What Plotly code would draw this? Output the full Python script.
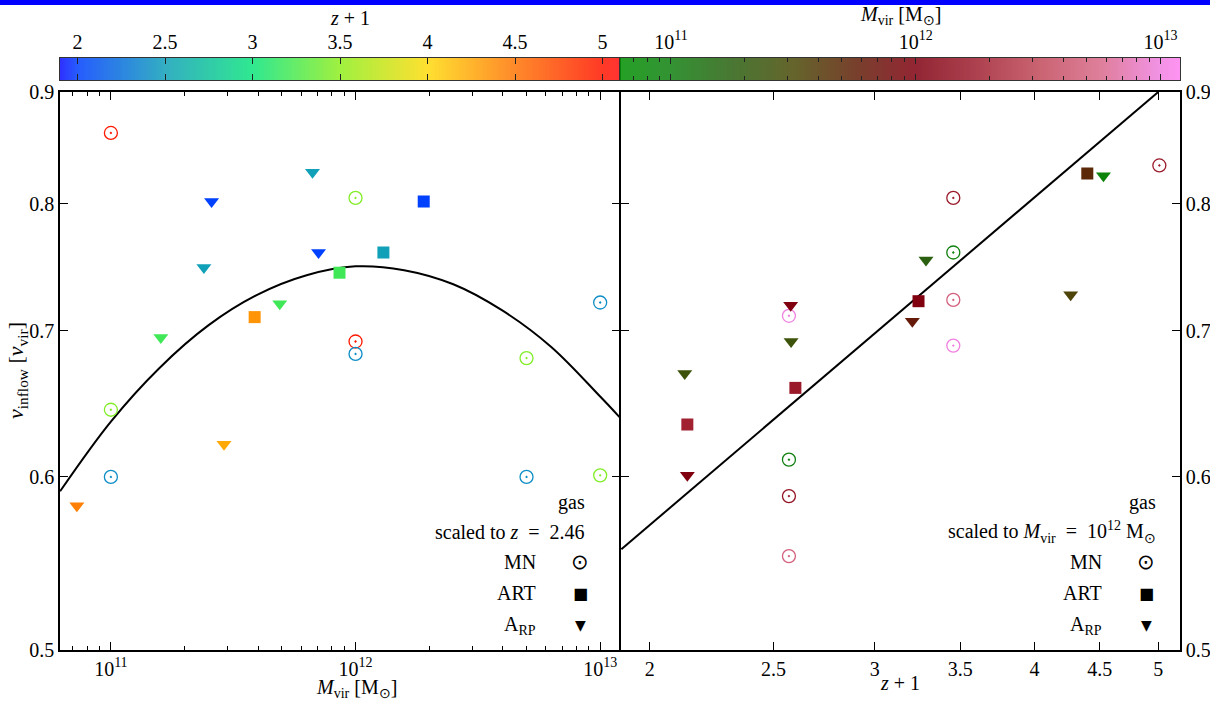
import numpy as np
import plotly.graph_objects as go

W, H = 1210, 705

# ---------------- data ----------------
# Left panel: v_inflow vs Mvir, scaled to z = 2.46, colour = z+1
mn_left_mvir = [1e11, 1e12, 1e12, 1e12, 1e13, 5e12, 1e11, 1e11, 5e12, 1e13]
mn_left_v    = [0.862, 0.805, 0.692, 0.683, 0.721, 0.680, 0.644, 0.600, 0.600, 0.601]
mn_left_z1   = [5.0, 3.45, 5.0, 2.4, 2.4, 3.45, 3.45, 2.4, 2.4, 3.45]

art_left_mvir = [1.9e12, 1.3e12, 8.6e11, 3.87e11]
art_left_v    = [0.802, 0.760, 0.744, 0.710]
art_left_z1   = [2.0, 2.5, 3.2, 4.35]

arp_left_mvir = [2.58e11, 6.67e11, 2.4e11, 7.06e11, 4.9e11, 1.6e11, 2.9e11, 7.26e10]
arp_left_v    = [0.802, 0.827, 0.748, 0.760, 0.720, 0.695, 0.621, 0.582]
arp_left_z1   = [2.0, 2.5, 2.5, 2.0, 3.2, 3.2, 4.25, 4.45]

# fit curve (left panel), sampled along the drawn line
fit_left_mvir = [6.2e10, 1.0e11, 1.58e11, 2.51e11, 3.98e11, 6.31e11, 1.0e12,
                 1.58e12, 2.51e12, 3.98e12, 6.31e12, 1.0e13, 1.2e13]
fit_left_v    = [0.591, 0.636, 0.673, 0.704, 0.727, 0.742, 0.749,
                 0.746, 0.735, 0.715, 0.688, 0.653, 0.639]

# Right panel: v_inflow vs z+1, scaled to Mvir = 1e12, colour = Mvir
mn_right_z1   = [2.57, 3.456, 3.456, 3.456, 3.456, 5.01, 2.57, 2.57, 2.57]
mn_right_v    = [0.711, 0.805, 0.760, 0.723, 0.689, 0.833, 0.611, 0.588, 0.552]
mn_right_mvir = [1e13, 1.6e12, 1e11, 5e12, 1e13, 1.6e12, 1e11, 1.4e12, 5e12]

art_right_z1   = [3.246, 4.40, 2.60, 2.14]
art_right_v    = [0.722, 0.826, 0.659, 0.634]
art_right_mvir = [1e12, 5e11, 1.6e12, 1.8e12]

arp_right_z1   = [2.578, 2.58, 2.13, 3.21, 3.29, 4.53, 4.27, 2.14]
arp_right_v    = [0.719, 0.692, 0.669, 0.707, 0.754, 0.824, 0.727, 0.601]
arp_right_mvir = [1e12, 2.5e11, 2.5e11, 6.3e11, 1.8e11, 9e10, 3.5e11, 1e12]

# fit line (right panel)
fit_right_z1 = [1.9, 5.0]
fit_right_v  = [0.556, 0.900]

# axis ticks
mvir_ticks = [1e11, 1e12, 1e13]
mvir_ticktext = ["10<sup>11</sup>", "10<sup>12</sup>", "10<sup>13</sup>"]
z1_ticks = [2, 2.5, 3, 3.5, 4, 4.5, 5]
z1_ticktext = ["2", "2.5", "3", "3.5", "4", "4.5", "5"]
v_ticks = [0.5, 0.6, 0.7, 0.8, 0.9]
v_ticktext = ["0.5", "0.6", "0.7", "0.8", "0.9"]

# ---------------- colour scales ----------------
Z1_MIN, Z1_MAX = 1.9, 5.1
LM_MIN, LM_MAX = 10.792, 13.08
z1_stops = [(1.9, '#0c0cff'), (2.0, '#0040ff'), (2.5, '#10a0b8'), (3.0, '#0ce47d'),
            (3.5, '#8fee1f'), (4.0, '#ffdb0c'), (4.5, '#ff7605'), (5.0, '#ff1800'),
            (5.1, '#ff1010')]
lm_stops = [(10.792, '#009000'), (11.0, '#108010'), (11.25, '#2a6010'), (11.5, '#4a4a08'),
            (11.75, '#602008'), (12.0, '#800010'), (12.25, '#a02030'), (12.5, '#c04858'),
            (12.75, '#d86888'), (13.0, '#f080e0'), (13.08, '#ff80f0')]


def norm_scale(stops, lo, hi):
    return [[(v - lo) / (hi - lo), c] for v, c in stops]


z1_scale = norm_scale(z1_stops, Z1_MIN, Z1_MAX)
lm_scale = norm_scale(lm_stops, LM_MIN, LM_MAX)

FONT = "Liberation Serif"
FS = 20

fig = go.Figure()


def add_pts(x, y, c, symbol, size, xa, ya, scale, cmin, cmax, lw=0):
    fig.add_trace(go.Scatter(
        x=x, y=y, mode='markers', xaxis=xa, yaxis=ya, showlegend=False,
        marker=dict(symbol=symbol, size=size, color=c, colorscale=scale,
                    cmin=cmin, cmax=cmax, showscale=False,
                    line=dict(width=lw))))


# left panel
fig.add_trace(go.Scatter(x=fit_left_mvir, y=fit_left_v, mode='lines', xaxis='x', yaxis='y',
                         line=dict(color='black', width=2, shape='spline', smoothing=1.0),
                         showlegend=False))
add_pts(mn_left_mvir, mn_left_v, mn_left_z1, 'circle-open-dot', 13, 'x', 'y', z1_scale, Z1_MIN, Z1_MAX, 1.3)
add_pts(art_left_mvir, art_left_v, art_left_z1, 'square', 12, 'x', 'y', z1_scale, Z1_MIN, Z1_MAX)
add_pts(arp_left_mvir, arp_left_v, arp_left_z1, 'triangle-down', 13, 'x', 'y', z1_scale, Z1_MIN, Z1_MAX)

# right panel
fig.add_trace(go.Scatter(x=fit_right_z1, y=fit_right_v, mode='lines', xaxis='x2', yaxis='y2',
                         line=dict(color='black', width=2), showlegend=False))
add_pts(mn_right_z1, mn_right_v, np.log10(mn_right_mvir), 'circle-open-dot', 13, 'x2', 'y2', lm_scale, LM_MIN, LM_MAX, 1.3)
add_pts(art_right_z1, art_right_v, np.log10(art_right_mvir), 'square', 12, 'x2', 'y2', lm_scale, LM_MIN, LM_MAX)
add_pts(arp_right_z1, arp_right_v, np.log10(arp_right_mvir), 'triangle-down', 13, 'x2', 'y2', lm_scale, LM_MIN, LM_MAX)

# colour bars drawn as heatmaps
cb_z1 = np.linspace(Z1_MIN, Z1_MAX, 400)
fig.add_trace(go.Heatmap(x=cb_z1, y=[0], z=[cb_z1], colorscale=z1_scale, zmin=Z1_MIN, zmax=Z1_MAX,
                         showscale=False, opacity=0.85, xaxis='x3', yaxis='y3', hoverinfo='skip'))
cb_lm = np.linspace(LM_MIN, LM_MAX, 400)
fig.add_trace(go.Heatmap(x=cb_lm, y=[0], z=[cb_lm], colorscale=lm_scale, zmin=LM_MIN, zmax=LM_MAX,
                         showscale=False, opacity=0.85, xaxis='x4', yaxis='y4', hoverinfo='skip'))

# ---------------- axes ----------------
px = lambda x: x / W
py = lambda y: 1 - y / H

LW = 1.5
tickfont = dict(family=FONT, size=FS, color='black')
base = dict(showgrid=False, zeroline=False, showline=True, linecolor='black', linewidth=LW,
            ticks='inside', ticklen=8, tickwidth=1.2, tickcolor='black', mirror='ticks',
            tickfont=tickfont, automargin=False, fixedrange=True)

minor_m = [k * 10 ** e for e in (10, 11, 12) for k in range(2, 10)]

L0, L1 = 60, 620 - LW / 2
R0, R1 = 620 + LW / 2, 1180

fig.update_layout(
    xaxis=dict(base, domain=[px(L0), px(L1)], type='log', range=[10.792, 13.078],
               tickmode='array', tickvals=mvir_ticks, ticktext=mvir_ticktext, anchor='y',
               minor=dict(tickmode='array', tickvals=minor_m, ticks='inside', ticklen=4,
                          tickwidth=1, tickcolor='black')),
    yaxis=dict(base, domain=[py(650), py(92)], type='log', range=[np.log10(0.5), np.log10(0.9)],
               tickmode='array', tickvals=v_ticks, ticktext=v_ticktext, anchor='x'),
    xaxis2=dict(base, domain=[px(R0), px(R1)], type='log',
                range=[np.log10(1.898), np.log10(5.2)],
                tickmode='array', tickvals=z1_ticks, ticktext=z1_ticktext, anchor='y2'),
    yaxis2=dict(base, domain=[py(650), py(92)], type='log', range=[np.log10(0.5), np.log10(0.9)],
                tickmode='array', tickvals=v_ticks, ticktext=v_ticktext, anchor='x2', side='right'),
    xaxis3=dict(base, domain=[px(60), px(620)], range=[Z1_MIN, Z1_MAX], side='top', anchor='y3',
                tickmode='array', tickvals=z1_ticks, ticktext=z1_ticktext, ticklen=6,
                linecolor='#333333', linewidth=1.3, tickcolor='#222222'),
    yaxis3=dict(domain=[py(80), py(58)], range=[-0.5, 0.5], showticklabels=False, ticks='',
                showgrid=False, zeroline=False, showline=True, mirror=True, linecolor='#333333',
                linewidth=1.3, anchor='x3', fixedrange=True),
    xaxis4=dict(base, domain=[px(620), px(1180)], range=[LM_MIN, LM_MAX], side='top', anchor='y4',
                tickmode='array', tickvals=[11, 12, 13], ticktext=mvir_ticktext, ticklen=6,
                linecolor='#333333', linewidth=1.3, tickcolor='#222222',
                minor=dict(tickmode='array', tickvals=[float(np.log10(v)) for v in minor_m],
                           ticks='inside', ticklen=4, tickwidth=1, tickcolor='#222222')),
    yaxis4=dict(domain=[py(80), py(58)], range=[-0.5, 0.5], showticklabels=False, ticks='',
                showgrid=False, zeroline=False, showline=True, mirror=True, linecolor='#333333',
                linewidth=1.3, anchor='x4', fixedrange=True),
)

# ---------------- text ----------------
ann = []


def text(x, y, s, xanchor='center', size=FS, angle=0, fam=FONT):
    ann.append(dict(x=px(x), y=py(y), xref='paper', yref='paper', text=s, showarrow=False,
                    xanchor=xanchor, yanchor='middle', textangle=angle,
                    font=dict(family=fam, size=size, color='black')))


text(350, 18, "<i>z</i> + 1")
text(900, 15, "<i>M</i><sub>vir</sub> [M<sub>⊙</sub>]")
text(356, 688, "<i>M</i><sub>vir</sub> [M<sub>⊙</sub>]")
text(900, 683, "<i>z</i> + 1")
text(17, 371, "<i>v</i><sub>inflow</sub> [<i>v</i><sub>vir</sub>]", angle=-90, size=22)

# legends
for xr, xs, line2 in [(587, 580, "scaled to <i>z</i>&nbsp;&nbsp;=&nbsp;&nbsp;2.46"),
                      (1158, 1146, "scaled to <i>M</i><sub>vir</sub>&nbsp;&nbsp;=&nbsp;&nbsp;10<sup>12</sup> M<sub>⊙</sub>")]:
    text(xr, 502, "gas", 'right')
    text(xr, 532, line2, 'right')
    xt = xs - 42
    text(xt, 562, "MN", 'right')
    text(xt, 593, "ART", 'right')
    text(xt, 625, "A<sub>RP</sub>", 'right')
    text(xs, 562, "⊙", size=21, fam="DejaVu Sans")
    text(xs, 593, "■", size=16, fam="DejaVu Sans")
    text(xs, 625, "▼", size=14, fam="DejaVu Sans")

fig.update_layout(
    annotations=ann,
    width=W, height=H,
    margin=dict(l=0, r=0, t=0, b=0),
    paper_bgcolor='white', plot_bgcolor='rgba(0,0,0,0)',
    showlegend=False,
    shapes=[dict(type='rect', xref='paper', yref='paper', x0=0, x1=1, y0=py(5), y1=1,
                 fillcolor='#0000ff', line=dict(width=0), layer='above')],
)

fig.write_html("out.html")
